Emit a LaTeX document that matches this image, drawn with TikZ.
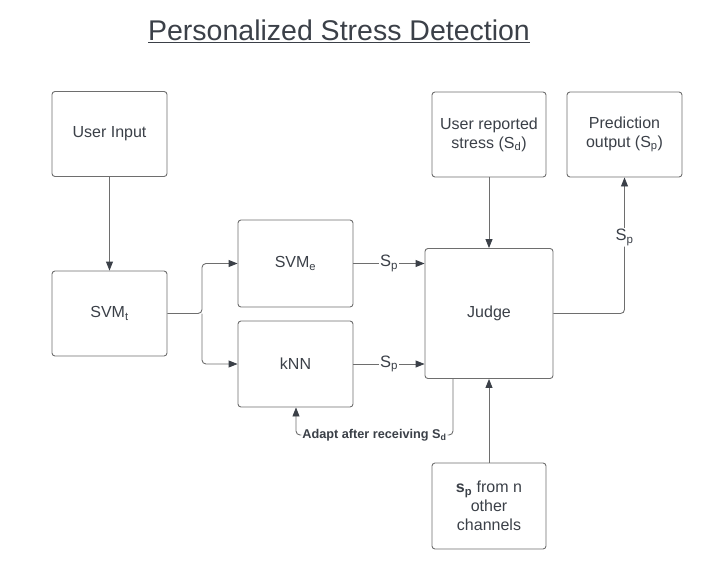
\documentclass[tikz,border=0pt]{standalone}
\usepackage{fontspec}
\setmainfont{Liberation Sans}
\usetikzlibrary{arrows.meta}
\definecolor{ink}{HTML}{3B4048}
\definecolor{edge}{HTML}{6E6E6E}
\tikzset{
  box/.style={draw=edge, line width=0.9pt, rounded corners=3pt, fill=white, text=ink,
    font=\fontsize{16}{19}\selectfont, align=center},
  conn/.style={draw=edge, line width=0.9pt, rounded corners=4pt,
    -{Triangle[length=9pt,width=7pt,fill=ink,color=ink]}},
  lbl/.style={fill=white, text=ink, font=\fontsize{16.5}{19}\selectfont, inner sep=1pt},
}
\begin{document}
\begin{tikzpicture}[x=1pt,y=-1pt]
\useasboundingbox (0,0) rectangle (706,576);
\node[text=ink, font=\fontsize{28.5}{32}\selectfont] (title) at (339,31) {\underline{Personalized Stress Detection}};

\node[box, minimum width=115pt, minimum height=85pt] (ui) at (109.5,134) {User Input};
\node[box, minimum width=115pt, minimum height=85pt] (svmt) at (109.5,313.5) {SVM\textsubscript{t}};
\node[box, minimum width=115pt, minimum height=87pt] (svme) at (295.5,263.5) {SVM\textsubscript{e}};
\node[box, minimum width=115pt, minimum height=86pt] (knn) at (295.5,364) {kNN};
\node[box, minimum width=128pt, minimum height=130pt] (judge) at (489,313.5) {Judge};
\node[box, minimum width=114pt, minimum height=85pt] (urs) at (489,134.5) {User reported\\stress (S\textsubscript{d})};
\node[box, minimum width=115pt, minimum height=85pt] (pred) at (624.5,134.5) {Prediction\\output (S\textsubscript{p})};
\node[box, minimum width=114pt, minimum height=86pt] (other) at (489,506) {\textbf{s\textsubscript{p}} from n\\other\\channels};

\coordinate (br) at (202,313.5);
\coordinate (jr) at (624.5,313.5);
\coordinate (ad1) at (453,435);
\coordinate (ad2) at (296,435);

\draw[conn] (ui) -- (svmt);
\draw[conn] (svmt.east) -- (br) |- (svme.west);
\draw[conn] (br) |- (knn.west);
\draw[conn] (svme.east) -- node[lbl]{S\textsubscript{p}} (svme.east -| judge.west);
\draw[conn] (knn.east) -- node[lbl]{S\textsubscript{p}} (knn.east -| judge.west);
\draw[conn] (urs) -- (judge);
\draw[conn] (judge.east) -- (jr) -- node[lbl, pos=0.56]{S\textsubscript{p}} (pred.south);
\draw[conn] (other) -- (judge);
\draw[conn] (ad1 |- judge.south) -- (ad1) -- node[fill=white, text=ink, inner sep=1pt, font=\bfseries\fontsize{12.7}{15}\selectfont]{Adapt after receiving S\textsubscript{d}} (ad2) -- (ad2 |- knn.south);
\end{tikzpicture}
\end{document}
